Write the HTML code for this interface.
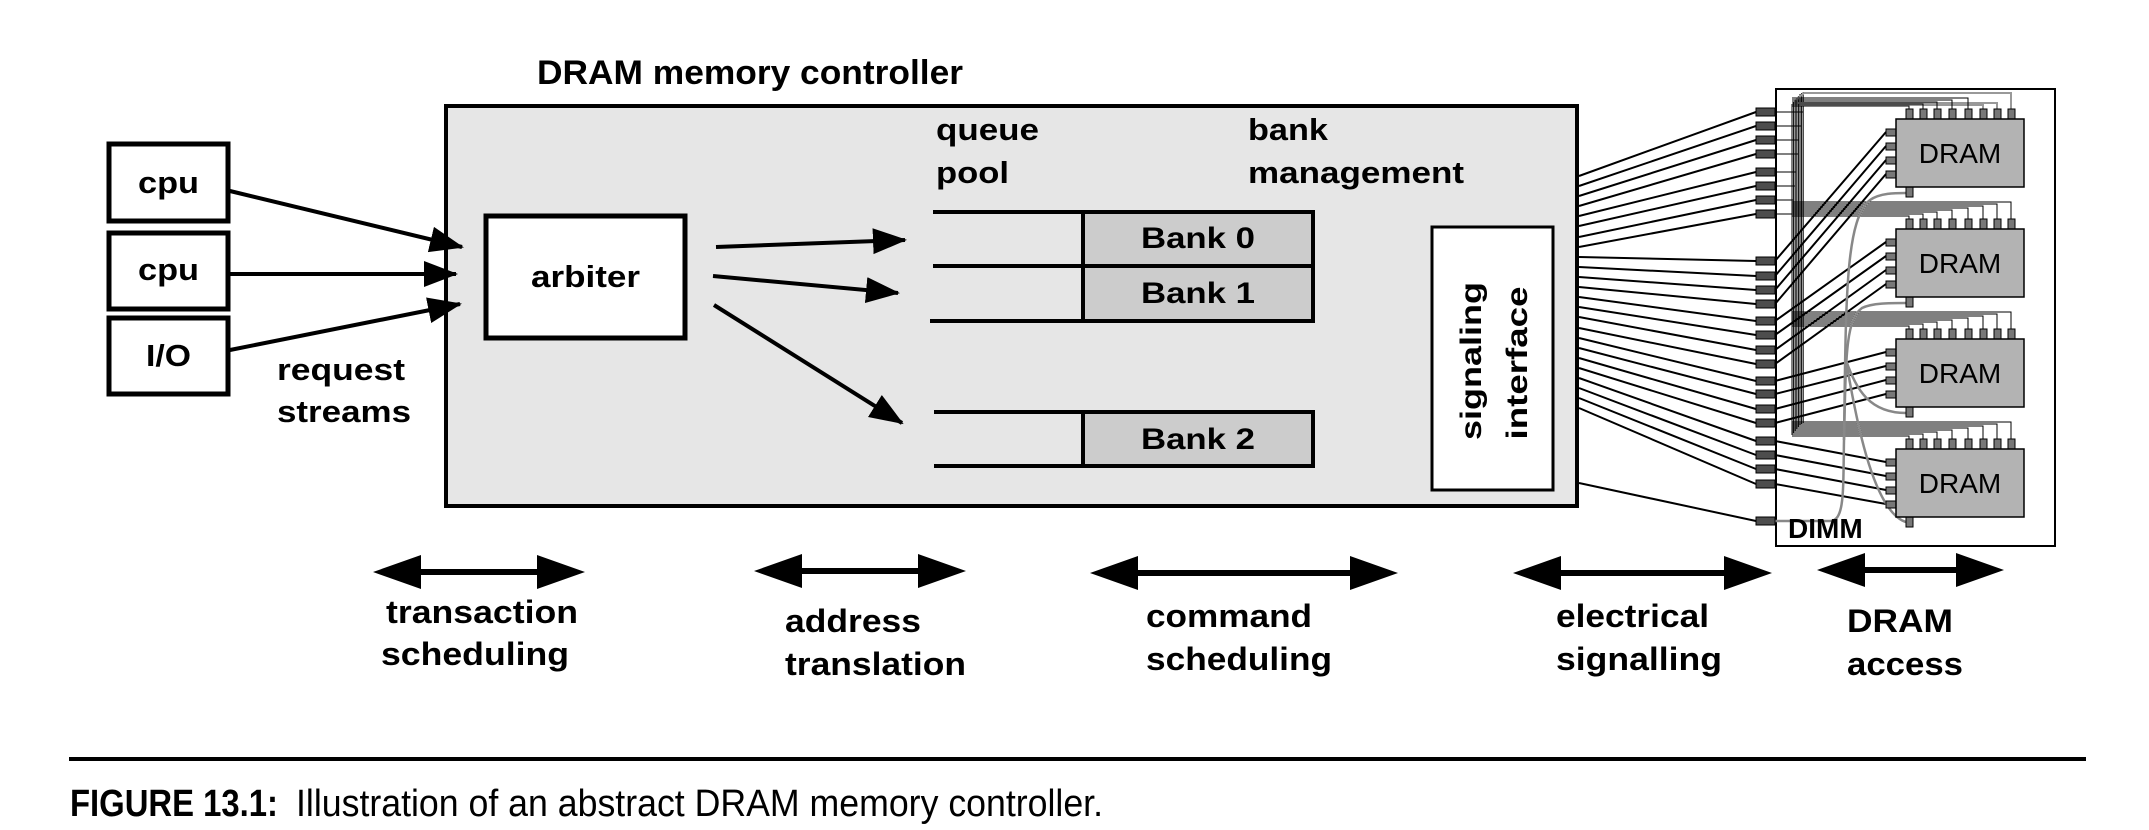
<!DOCTYPE html>
<html><head><meta charset="utf-8"><style>html,body{margin:0;padding:0;background:#fff}svg{display:block}text{font-family:"Liberation Sans",Arial,sans-serif}</style></head>
<body>
<svg width="2149" height="830" viewBox="0 0 2149 830" xmlns="http://www.w3.org/2000/svg">
<defs>
<marker id="a" markerUnits="userSpaceOnUse" markerWidth="34" markerHeight="28" refX="32" refY="13" orient="auto"><path d="M0,0 L34,13 L0,26 z" fill="#000"/></marker>
</defs>
<g font-weight="bold" fill="#000">
<text x="537" y="84" font-size="34" textLength="426" lengthAdjust="spacingAndGlyphs">DRAM memory controller</text>
</g>
<!-- controller -->
<rect x="446" y="106" width="1131" height="400" fill="#e6e6e6" stroke="#000" stroke-width="4"/>
<!-- cpu boxes -->
<rect x="109" y="144" width="119" height="77" fill="#fff" stroke="#000" stroke-width="5"/>
<rect x="109" y="233" width="119" height="76" fill="#fff" stroke="#000" stroke-width="5"/>
<rect x="109" y="318" width="119" height="76" fill="#fff" stroke="#000" stroke-width="5"/>
<rect x="486" y="216" width="199" height="122" fill="#fff" stroke="#000" stroke-width="5"/>
<g font-weight="bold" font-size="31">
<text x="138" y="193" textLength="61" lengthAdjust="spacingAndGlyphs">cpu</text>
<text x="138" y="280" textLength="61" lengthAdjust="spacingAndGlyphs">cpu</text>
<text x="146" y="366" textLength="45" lengthAdjust="spacingAndGlyphs">I/O</text>
<text x="531" y="287" textLength="109" lengthAdjust="spacingAndGlyphs">arbiter</text>
<text x="277" y="380" textLength="128" lengthAdjust="spacingAndGlyphs">request</text>
<text x="277" y="422" textLength="134" lengthAdjust="spacingAndGlyphs">streams</text>
<text x="936" y="140" textLength="103" lengthAdjust="spacingAndGlyphs">queue</text>
<text x="936" y="183" textLength="73" lengthAdjust="spacingAndGlyphs">pool</text>
<text x="1248" y="140" textLength="80" lengthAdjust="spacingAndGlyphs">bank</text>
<text x="1248" y="183" textLength="216" lengthAdjust="spacingAndGlyphs">management</text>
</g>
<!-- arrows -->
<g stroke="#000" stroke-width="4" marker-end="url(#a)">
<line x1="230" y1="191" x2="462" y2="247"/>
<line x1="230" y1="274" x2="456" y2="274"/>
<line x1="230" y1="350" x2="460" y2="304"/>
<line x1="716" y1="247" x2="905" y2="240"/>
<line x1="713" y1="276" x2="898" y2="293"/>
<line x1="714" y1="305" x2="902" y2="423"/>
</g>
<!-- banks -->
<rect x="1083" y="212" width="230" height="54" fill="#ccc" stroke="#000" stroke-width="4"/>
<rect x="1083" y="266" width="230" height="55" fill="#ccc" stroke="#000" stroke-width="4"/>
<rect x="1083" y="412" width="230" height="54" fill="#ccc" stroke="#000" stroke-width="4"/>
<g stroke="#000" stroke-width="4">
<line x1="933" y1="212" x2="1085" y2="212"/>
<line x1="933" y1="266" x2="1085" y2="266"/>
<line x1="930" y1="321" x2="1085" y2="321"/>
<line x1="934" y1="412" x2="1085" y2="412"/>
<line x1="934" y1="466" x2="1085" y2="466"/>
</g>
<g font-weight="bold" font-size="30">
<text x="1141" y="248" textLength="114" lengthAdjust="spacingAndGlyphs">Bank 0</text>
<text x="1141" y="303" textLength="114" lengthAdjust="spacingAndGlyphs">Bank 1</text>
<text x="1141" y="449" textLength="114" lengthAdjust="spacingAndGlyphs">Bank 2</text>
</g>
<!-- signaling -->
<rect x="1432" y="227" width="121" height="263" fill="#fff" stroke="#000" stroke-width="3"/>
<g font-weight="bold" font-size="30" text-anchor="middle">
<text transform="translate(1481,361) rotate(-90)" textLength="158" lengthAdjust="spacingAndGlyphs">signaling</text>
<text transform="translate(1527,363) rotate(-90)" textLength="153" lengthAdjust="spacingAndGlyphs">interface</text>
</g>
<!-- DIMM -->
<rect x="1776" y="89" width="279" height="457" fill="#fff" stroke="#000" stroke-width="2"/>
<!-- wires controller->pads -->
<g stroke="#000" stroke-width="2" fill="none">
<path d="M1579 176L1756 112M1579 186L1756 126M1579 196L1756 140M1579 206L1756 154M1579 216L1756 172M1579 226L1756 186M1579 237L1756 200M1579 247L1756 214M1579 257L1756 261M1579 267L1756 276M1579 277L1756 290M1579 287L1756 304M1579 297L1756 321M1579 307L1756 335M1579 317L1756 350M1579 328L1756 364M1579 338L1756 381M1579 348L1756 394M1579 358L1756 409M1579 368L1756 423M1579 378L1756 441M1579 388L1756 455M1579 398L1756 469M1579 408L1756 484M1579 483L1756 521"/>
<!-- diagonals pads->chip left pins -->
<path d="M1775 261L1886 132M1775 276L1886 146M1775 290L1886 160M1775 304L1886 174M1775 321L1886 242M1775 335L1886 256M1775 350L1886 270M1775 364L1886 284M1775 381L1886 352M1775 394L1886 366M1775 409L1886 380M1775 423L1886 394M1775 441L1886 462M1775 455L1886 476M1775 469L1886 490M1775 484L1886 504"/>
</g>
<!-- bus -->
<g stroke="#000" stroke-width="1" fill="none">
<path d="M1775 112H1803M1775 126H1801M1775 140H1799M1775 154H1798M1775 172H1796M1775 186H1795M1775 200H1793M1775 214H1792"/>
<path d="M1792 104V435M1793.6 102V433M1795.2 100V431M1796.8 98V429M1798.4 96V427M1800 94V425M1801.6 93V424M1803.2 92V423"/>
</g>
<g stroke="#999" stroke-width="2" fill="none">
<path d="M1796 100L1804 93H2011V109M1798 103H1997V109M1800 105H1983V109"/>
</g>
<g stroke="#000" stroke-width="1" fill="none">
<path d="M1792 106H1909V109M1792 104H1923V109M1792 102H1937V109M1792 100H1952V109M1792 98H1968V109"/>
<path d="M1792 216H1909V219M1792 214H1923V219M1792 212H1937V219M1792 210H1952V219M1792 208H1968V219M1792 206H1983V219M1792 204H1997V219M1792 202H2011V219"/>
<path d="M1792 326H1909V329M1792 324H1923V329M1792 322H1937V329M1792 320H1952V329M1792 318H1968V329M1792 316H1983V329M1792 314H1997V329M1792 312H2011V329"/>
<path d="M1792 436H1909V439M1792 434H1923V439M1792 432H1937V439M1792 430H1952V439M1792 428H1968V439M1792 426H1983V439M1792 424H1997V439M1792 422H2011V439"/>
</g>
<!-- gray curves -->
<g stroke="#888" stroke-width="2.5" fill="none">
<path d="M1775 521H1830C1845 521 1843 490 1844 440C1846 300 1845 220 1870 200C1880 193 1895 193 1906 193"/>
<path d="M1844 440C1846 360 1845 320 1862 308C1872 303 1890 303 1906 303"/>
<path d="M1846 360C1856 390 1870 413 1906 413"/>
<path d="M1846 360C1856 420 1875 523 1912 523"/>
</g>
<!-- pads -->
<g fill="#4d4d4d" stroke="#000" stroke-width="1">
<rect x="1756" y="108" width="19" height="8"/><rect x="1756" y="122" width="19" height="8"/><rect x="1756" y="136" width="19" height="8"/><rect x="1756" y="150" width="19" height="8"/>
<rect x="1756" y="168" width="19" height="8"/><rect x="1756" y="182" width="19" height="8"/><rect x="1756" y="196" width="19" height="8"/><rect x="1756" y="210" width="19" height="8"/>
<rect x="1756" y="257" width="19" height="8"/><rect x="1756" y="272" width="19" height="8"/><rect x="1756" y="286" width="19" height="8"/><rect x="1756" y="300" width="19" height="8"/>
<rect x="1756" y="317" width="19" height="8"/><rect x="1756" y="331" width="19" height="8"/><rect x="1756" y="346" width="19" height="8"/><rect x="1756" y="360" width="19" height="8"/>
<rect x="1756" y="377" width="19" height="8"/><rect x="1756" y="390" width="19" height="8"/><rect x="1756" y="405" width="19" height="8"/><rect x="1756" y="419" width="19" height="8"/>
<rect x="1756" y="437" width="19" height="8"/><rect x="1756" y="451" width="19" height="8"/><rect x="1756" y="465" width="19" height="8"/><rect x="1756" y="480" width="19" height="8"/>
<rect x="1756" y="517" width="19" height="8"/>
</g>
<!-- DRAM chips -->
<g id="chip1">
<g fill="#777" stroke="#000" stroke-width="1">
<rect x="1906" y="109" width="7" height="10"/><rect x="1920" y="109" width="7" height="10"/><rect x="1934" y="109" width="7" height="10"/><rect x="1949" y="109" width="7" height="10"/><rect x="1965" y="109" width="7" height="10"/><rect x="1980" y="109" width="7" height="10"/><rect x="1994" y="109" width="7" height="10"/><rect x="2008" y="109" width="7" height="10"/>
<rect x="1886" y="129" width="10" height="7"/><rect x="1886" y="143" width="10" height="7"/><rect x="1886" y="157" width="10" height="7"/><rect x="1886" y="171" width="10" height="7"/>
<rect x="1906" y="187" width="7" height="10"/>
</g>
<rect x="1896" y="119" width="128" height="68" fill="#b3b3b3" stroke="#000" stroke-width="1.5"/>
<text x="1960" y="163" font-size="28" text-anchor="middle">DRAM</text>
</g>
<use href="#chip1" transform="translate(0,110)"/>
<use href="#chip1" transform="translate(0,220)"/>
<use href="#chip1" transform="translate(0,330)"/>
<text x="1788" y="538" font-size="28" font-weight="bold">DIMM</text>
<!-- bottom double arrows -->
<g fill="#000">
<path d="M373 572L421 555V569H537V555L585 572L537 589V575H421V589Z"/>
<path d="M754 571L802 554V568H918V554L966 571L918 588V574H802V588Z"/>
<path d="M1090 573L1138 556V570H1350V556L1398 573L1350 590V576H1138V590Z"/>
<path d="M1513 573L1561 556V570H1724V556L1772 573L1724 590V576H1561V590Z"/>
<path d="M1817 570L1865 553V567H1956V553L2004 570L1956 587V573H1865V587Z"/>
</g>
<g font-weight="bold" font-size="32">
<text x="386" y="623" textLength="192" lengthAdjust="spacingAndGlyphs">transaction</text>
<text x="381" y="665" textLength="188" lengthAdjust="spacingAndGlyphs">scheduling</text>
<text x="785" y="632" textLength="136" lengthAdjust="spacingAndGlyphs">address</text>
<text x="785" y="675" textLength="181" lengthAdjust="spacingAndGlyphs">translation</text>
<text x="1146" y="627" textLength="166" lengthAdjust="spacingAndGlyphs">command</text>
<text x="1146" y="670" textLength="186" lengthAdjust="spacingAndGlyphs">scheduling</text>
<text x="1556" y="627" textLength="153" lengthAdjust="spacingAndGlyphs">electrical</text>
<text x="1556" y="670" textLength="166" lengthAdjust="spacingAndGlyphs">signalling</text>
<text x="1847" y="632" textLength="106" lengthAdjust="spacingAndGlyphs">DRAM</text>
<text x="1847" y="675" textLength="116" lengthAdjust="spacingAndGlyphs">access</text>
</g>
<rect x="69" y="757" width="2017" height="4" fill="#000"/>
<text x="70" y="816" font-size="38" font-weight="bold" textLength="208" lengthAdjust="spacingAndGlyphs">FIGURE 13.1:</text>
<text x="296" y="816" font-size="38" textLength="807" lengthAdjust="spacingAndGlyphs">Illustration of an abstract DRAM memory controller.</text>
</svg>
</body></html>
